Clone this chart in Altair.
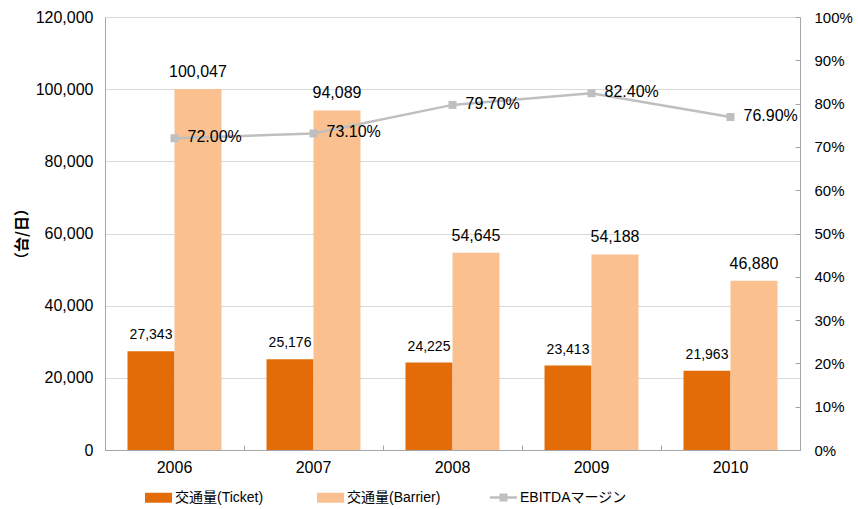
import altair as alt
import pandas as pd

years = ["2006", "2007", "2008", "2009", "2010"]
ticket = [27343, 25176, 24225, 23413, 21963]
barrier = [100047, 94089, 54645, 54188, 46880]
ebitda = [0.720, 0.731, 0.797, 0.824, 0.769]

series_names = ["交通量(Ticket)", "交通量(Barrier)"]
line_name = "EBITDAマージン"
bar_colors = ["#E36C09", "#FAC090"]
line_color = "#BFBFBF"

bars_df = pd.DataFrame({
    "year": years * 2,
    "series": [s for s in series_names for _ in years],
    "value": ticket + barrier,
})
line_df = pd.DataFrame({"year": years, "margin": ebitda, "name": [line_name] * len(years)})

FONT = "Liberation Sans, Arial, Noto Sans CJK JP"
CJK = "Noto Sans CJK JP"
AXIS_GRAY = "#A6A6A6"
W, H = 695, 433

x_scale = alt.Scale(paddingInner=0, paddingOuter=0)
x_enc = alt.X(
    "year:N", sort=years, scale=x_scale,
    axis=alt.Axis(title=None, labelAngle=0, ticks=False, tickSize=0,
                  domainColor=AXIS_GRAY, labelFontSize=16, labelPadding=9,
                  labelColor="#000000", labelFont=FONT),
)
# second x axis: only inward tick marks at category boundaries
x_enc_r = alt.X(
    "year:N", sort=years, scale=x_scale,
    axis=alt.Axis(orient="top", offset=-H, tickBand="extent", ticks=True, tickSize=5,
                  tickColor=AXIS_GRAY, labels=False, domain=False, grid=False, title=None),
)
xoff = alt.XOffset("series:N", sort=series_names,
                   scale=alt.Scale(paddingInner=0, paddingOuter=0.479))

line_shape = "M-1,-0.09H1V0.09H-1Z M-0.3,-0.3H0.3V0.3H-0.3Z"
rect_shape = "M-1,-0.37H1V0.37H-1Z"

color_enc = alt.Color(
    "series:N",
    scale=alt.Scale(domain=series_names, range=bar_colors),
    legend=alt.Legend(
        title=None, orient="none", legendX=40, legendY=467,
        direction="horizontal", columnPadding=53, labelOffset=3,
        symbolType=rect_shape, symbolSize=729, symbolStrokeWidth=0, padding=0,
        labelFontSize=14, labelFont=FONT, labelColor="#000000",
    ),
)

y_left = alt.Y(
    "value:Q",
    scale=alt.Scale(domain=[0, 120000], nice=False),
    axis=alt.Axis(values=list(range(0, 120001, 20000)), format=",d",
                  grid=True, gridColor="#D9D9D9", ticks=False, tickSize=0,
                  domainColor=AXIS_GRAY, labelFontSize=16, labelPadding=12,
                  labelColor="#000000", labelFont=FONT,
                  title="（台/日）", titleFont=CJK, titleFontWeight="bold",
                  titleFontSize=15, titlePadding=6, titleColor="#000000"),
)

bars = alt.Chart(bars_df).mark_bar().encode(
    x=x_enc, xOffset=xoff, y=y_left, color=color_enc,
)
bar_text = alt.Chart(bars_df).mark_text(
    baseline="alphabetic", dy=-12, font=FONT, color="#000000"
).encode(
    x=x_enc, xOffset=xoff, y=alt.Y("value:Q"),
    text=alt.Text("value:Q", format=",d"),
    size=alt.condition(alt.datum.series == series_names[1], alt.value(16), alt.value(14)),
)
left = alt.layer(bars, bar_text)

pct_values = [i / 10 for i in range(11)]
y_scale_r = alt.Scale(domain=[0, 1], nice=False)
y_right = alt.Y(
    "margin:Q", scale=y_scale_r,
    axis=alt.Axis(orient="right", values=pct_values, format=".0%",
                  grid=False, ticks=False, tickSize=0,
                  domainColor=AXIS_GRAY, labelFontSize=15, labelPadding=14,
                  labelColor="#000000", labelFont=FONT, title=None),
)
# second right-scale axis: only inward ticks on the right edge
y_right_ticks = alt.Y(
    "margin:Q", scale=y_scale_r,
    axis=alt.Axis(orient="left", offset=-W, values=pct_values, ticks=True, tickSize=5,
                  tickColor=AXIS_GRAY, labels=False, domain=False, grid=False, title=None),
)

line = alt.Chart(line_df).mark_line(color=line_color, strokeWidth=2.5).encode(
    x=x_enc_r, y=y_right,
)
pts = alt.Chart(line_df).mark_square(size=64, opacity=1).encode(
    x=x_enc_r, y=alt.Y("margin:Q", axis=None),
    fill=alt.Fill(
        "name:N",
        scale=alt.Scale(domain=[line_name], range=[line_color]),
        legend=alt.Legend(
            title=None, orient="none", legendX=385, legendY=467,
            direction="horizontal", labelOffset=3,
            symbolType=line_shape, symbolSize=729, symbolStrokeWidth=0, padding=0,
            labelFontSize=14, labelFont=FONT, labelColor="#000000",
        ),
    ),
)
line_text = alt.Chart(line_df).mark_text(
    align="left", baseline="middle", dx=13, dy=-1, fontSize=16, font=FONT, color="#000000"
).encode(
    x=x_enc_r, y=y_right_ticks, text=alt.Text("margin:Q", format=".2%"),
)
right = alt.layer(line, pts, line_text).resolve_axis(y="independent")

chart = alt.layer(left, right).resolve_scale(y="independent").resolve_axis(x="independent").properties(
    width=W, height=H,
    autosize=alt.AutoSizeParams(type="none"),
    padding={"left": 105, "top": 17, "right": 58, "bottom": 59},
    background="#FFFFFF",
).configure_view(stroke=None)

chart.save("out.html", embed_options={"renderer": "svg", "actions": False})
